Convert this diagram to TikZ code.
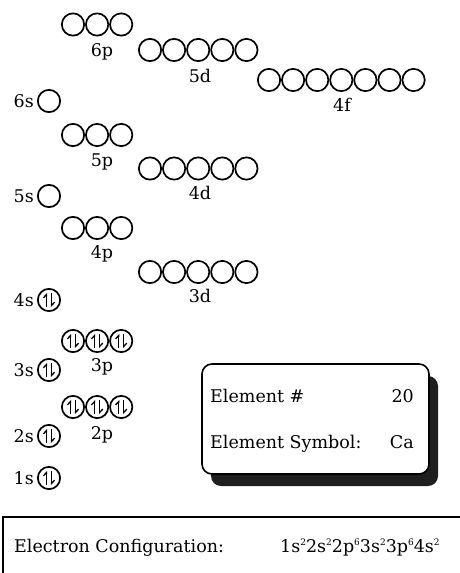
\documentclass[tikz,border=0pt]{standalone}
\usepackage{fontspec}
\setmainfont{DejaVu Serif}
\usetikzlibrary{arrows.meta,shadows}

\tikzset{
  orb/.style={circle, draw, line width=1.7pt, minimum size=22.3pt, inner sep=0pt},
  lbl/.style={font=\fontsize{17.5}{20}\selectfont, inner sep=0pt},
  spin/.style={line width=1.3pt, -{Straight Barb[left,length=3.2pt,width=6pt]}},
  panel/.style={draw, line width=1.6pt, rounded corners=10pt, fill=white,
    minimum width=227pt, minimum height=110pt,
    drop shadow={shadow xshift=9pt, shadow yshift=-12pt, fill=black!88, opacity=1}}
}

% two opposed half-arrows inside an orbital
\newcommand\paired[1]{%
  \draw[spin] ([xshift=-2.6pt,yshift=-7pt]#1.center) -- ([xshift=-2.6pt,yshift=7pt]#1.center);
  \draw[spin] ([xshift=2.6pt,yshift=7pt]#1.center) -- ([xshift=2.6pt,yshift=-7pt]#1.center);}

% a row of orbitals: name, first centre x, y, count, filled (1/0)
\newcommand\orbrow[5]{%
  \foreach \k in {1,...,#4}{%
    \node[orb] (#1\k) at ({#2+24.1*(\k-1)},#3) {};
    \ifnum#5=1 \paired{#1\k}\fi}}

% small raised electron count
\newcommand\ecount[1]{\raisebox{0.78ex}{\fontsize{9}{9}\selectfont #1}}

\begin{document}
\begin{tikzpicture}[x=1pt,y=-1pt]
  \useasboundingbox (0,0) rectangle (459,573);

  % sublevels
  \orbrow{sixp}{73}{24.5}{3}{0}
  \orbrow{fived}{150}{50}{5}{0}
  \orbrow{fourf}{269}{80}{7}{0}
  \orbrow{sixs}{49}{101}{1}{0}
  \orbrow{fivep}{73}{135}{3}{0}
  \orbrow{fourd}{150}{168.5}{5}{0}
  \orbrow{fives}{49}{196}{1}{0}
  \orbrow{fourp}{73}{228}{3}{0}
  \orbrow{threed}{150}{272}{5}{0}
  \orbrow{fours}{49}{300}{1}{1}
  \orbrow{threep}{73}{341}{3}{1}
  \orbrow{threes}{49}{370}{1}{1}
  \orbrow{twop}{73}{407}{3}{1}
  \orbrow{twos}{49}{436}{1}{1}
  \orbrow{ones}{49}{478}{1}{1}

  % labels under p, d, f rows
  \node[lbl, anchor=base] (l6p) at (102,56) {6p};
  \node[lbl, anchor=base] (l5d) at (200,82) {5d};
  \node[lbl, anchor=base] (l4f) at (342,111) {4f};
  \node[lbl, anchor=base] (l5p) at (102,166) {5p};
  \node[lbl, anchor=base] (l4d) at (200,199) {4d};
  \node[lbl, anchor=base] (l4p) at (102,258) {4p};
  \node[lbl, anchor=base] (l3d) at (200,302) {3d};
  \node[lbl, anchor=base] (l3p) at (102,371.5) {3p};
  \node[lbl, anchor=base] (l2p) at (102,439.5) {2p};

  % labels beside s orbitals
  \foreach \n/\t in {sixs/6s, fives/5s, fours/4s, threes/3s, twos/2s, ones/1s}
    \node[lbl, anchor=east] (l\n) at ([xshift=-3pt]\n1.west) {\t};

  % element panel
  \node[panel] (elbox) at (315.5,419) {};
  \node[lbl, anchor=base west] (elnum) at (210,402.5) {Element \#};
  \node[lbl, anchor=base east] (elnumv) at (414,402.5) {20};
  \node[lbl, anchor=base west] (elsym) at (210,448) {Element Symbol:};
  \node[lbl, anchor=base east] (elsymv) at (414,448) {Ca};

  % configuration strip
  \draw[line width=1.6pt] (3,517) rectangle (475,600);
  \node[lbl, anchor=base west] (cfg) at (14,552.5) {Electron Configuration:};
  \node[lbl, anchor=base west] (cfgv) at (280,552.5)
    {1s\ecount{2}2s\ecount{2}2p\ecount{6}3s\ecount{2}3p\ecount{6}4s\ecount{2}};
\end{tikzpicture}
\end{document}
